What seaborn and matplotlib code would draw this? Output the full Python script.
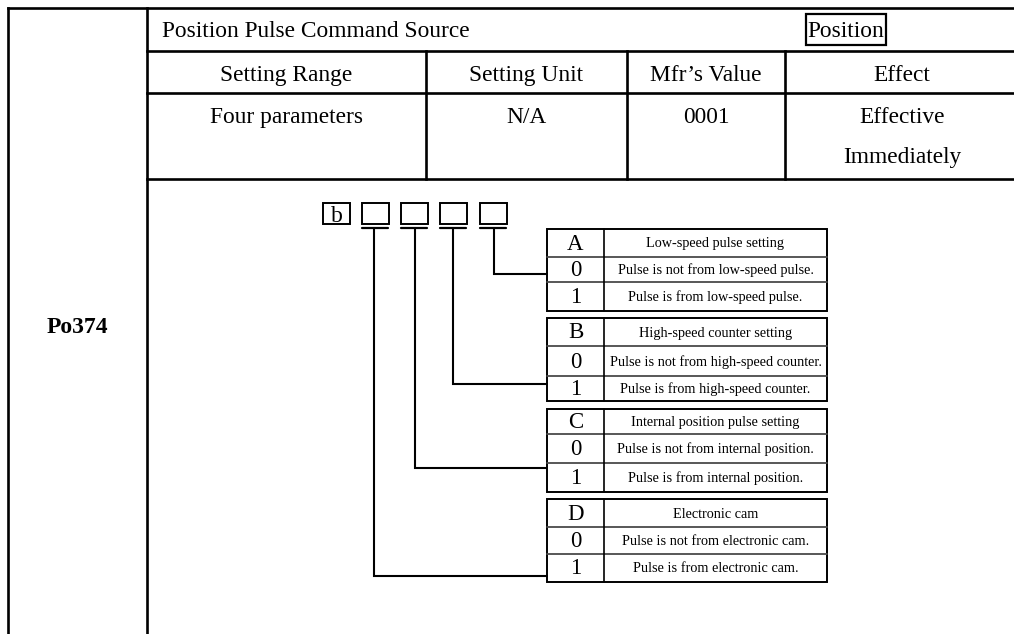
import matplotlib
matplotlib.use("Agg")
import matplotlib.pyplot as plt
from matplotlib.patches import Rectangle
import seaborn as sns

# table content
title = "Position Pulse Command Source"
mode_tag = "Position"
header_cols = ["Setting Range", "Setting Unit", "Mfr\u2019s Value", "Effect"]
value_cols = ["Four parameters", "N/A", "0001", "Effective"]
value_extra = ["", "", "", "Immediately"]
param_code = "Po374"

# bit diagram content
bit_prefix = "b"
bit_names = ["A", "B", "C", "D"]
bit_titles = ["Low-speed pulse setting", "High-speed counter setting",
              "Internal position pulse setting", "Electronic cam"]
bit_opt0 = ["Pulse is not from low-speed pulse.", "Pulse is not from high-speed counter.",
            "Pulse is not from internal position.", "Pulse is not from electronic cam."]
bit_opt1 = ["Pulse is from low-speed pulse.", "Pulse is from high-speed counter.",
            "Pulse is from internal position.", "Pulse is from electronic cam."]
option_values = ["0", "1"]

sns.set_theme(style="white")
plt.rcParams['font.family'] = ['Liberation Serif', 'DejaVu Serif']
plt.rcParams['text.color'] = 'black'

fig = plt.figure(figsize=(10.14, 6.34), dpi=100)
ax = fig.add_axes([0, 0, 1, 1])
ax.set_xlim(0, 1014)
ax.set_ylim(634, 0)
ax.axis('off')

main_lw = 1.9
k = dict(color='black', lw=main_lw, solid_capstyle='projecting')

# outer frame of the main table
ax.plot([8, 1014], [8, 8], **k)
ax.plot([8, 8], [8, 634], **k)
ax.plot([147, 147], [8, 634], **k)
for y in [51, 93, 179]:
    ax.plot([147, 1014], [y, y], **k)
col_edges = [147, 426, 627, 785, 1019]
for x in col_edges[1:-1]:
    ax.plot([x, x], [51, 179], **k)

fs_main = 16.8
ax.text(162, 37, title, fontsize=fs_main, ha='left', va='baseline')
ax.add_patch(Rectangle((806, 14), 80, 31, fill=False, lw=1.6, ec='black'))
ax.text(846, 37, mode_tag, fontsize=fs_main, ha='center', va='baseline')

for i in range(len(header_cols)):
    cx = (col_edges[i] + col_edges[i + 1]) / 2
    ax.text(cx, 81, header_cols[i], fontsize=fs_main, ha='center', va='baseline')
    ax.text(cx, 123, value_cols[i], fontsize=fs_main, ha='center', va='baseline')
    if value_extra[i]:
        ax.text(cx, 163, value_extra[i], fontsize=fs_main, ha='center', va='baseline')

ax.text(77, 333, param_code, fontsize=17, fontweight='bold', ha='center', va='baseline')

# bit boxes: b + four digits (D C B A from left to right)
box_x = [323, 362, 401, 440, 480]
box_w, box_top, box_h = 27, 203, 21
for x in box_x:
    ax.add_patch(Rectangle((x, box_top), box_w, box_h, fill=False, lw=1.4, ec='black'))
ax.text(box_x[0] + box_w / 2, box_top + box_h - 2, bit_prefix, fontsize=17,
        ha='center', va='baseline')
for x in box_x[1:]:
    ax.plot([x, x + box_w - 1], [228, 228], color='black', lw=1.6)

# sub tables, one per bit (A top to D bottom)
sub_left, sub_mid, sub_right = 547, 604, 827
sub_rows = [[229, 257, 282, 311], [318, 346, 376, 401],
            [409, 434, 463, 492], [499, 527, 554, 582]]
drop_x = [494, 453, 415, 374]
drop_y = [274, 384, 468, 576]

for i, name in enumerate(bit_names):
    rows = sub_rows[i]
    ax.add_patch(Rectangle((sub_left, rows[0]), sub_right - sub_left, rows[-1] - rows[0],
                           fill=False, lw=1.4, ec='black'))
    for y in rows[1:-1]:
        ax.plot([sub_left, sub_right], [y, y], color='#4a4a4a', lw=1.3)
    ax.plot([sub_mid, sub_mid], [rows[0], rows[-1]], color='black', lw=1.2)
    left_txt = [name] + option_values
    right_txt = [bit_titles[i], bit_opt0[i], bit_opt1[i]]
    for r in range(3):
        cy = (rows[r] + rows[r + 1]) / 2 + 1
        ax.text((sub_left + sub_mid) / 2, cy, left_txt[r], fontsize=16.5,
                ha='center', va='center')
        ax.text((sub_mid + sub_right) / 2, cy, right_txt[r], fontsize=10.3,
                ha='center', va='center')
    # connector from digit box to option row
    ax.plot([drop_x[i], drop_x[i], sub_left], [228, drop_y[i], drop_y[i]],
            color='black', lw=1.5, solid_joinstyle='miter')

fig.savefig('out.png', dpi=100)
